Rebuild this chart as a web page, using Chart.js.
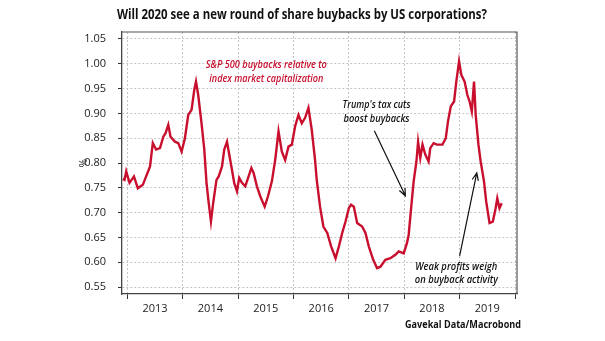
<!DOCTYPE html>
<html>
<head>
<meta charset="utf-8">
<script src="https://cdn.jsdelivr.net/npm/chart.js@4.4.1/dist/chart.umd.min.js"></script>
<style>
  html, body { margin: 0; padding: 0; background: #fff; }
  #wrap { width: 605px; height: 341px; }
</style>
</head>
<body>
<div id="wrap"><canvas id="chart" width="605" height="341"></canvas></div>
<script>
// dates en années décimales (%)
const dates = [
  2012.92, 2012.95, 2012.98, 2013.04, 2013.12, 2013.19, 2013.28, 2013.34, 2013.41, 2013.46,
  2013.52, 2013.59, 2013.65, 2013.69, 2013.74, 2013.78, 2013.86, 2013.92, 2013.98, 2014.04,
  2014.10, 2014.16, 2014.21, 2014.24, 2014.28, 2014.34, 2014.39, 2014.43, 2014.47, 2014.51,
  2014.55, 2014.61, 2014.65, 2014.71, 2014.75, 2014.80, 2014.84, 2014.89, 2014.93, 2014.98,
  2015.02, 2015.07, 2015.13, 2015.19, 2015.24, 2015.28, 2015.34, 2015.40, 2015.48, 2015.54,
  2015.61, 2015.67, 2015.73, 2015.79, 2015.85, 2015.91, 2015.97, 2016.03, 2016.09, 2016.15,
  2016.21, 2016.27, 2016.33, 2016.39, 2016.42, 2016.48, 2016.54, 2016.61, 2016.68, 2016.76,
  2016.82, 2016.88, 2016.94, 2017.00, 2017.04, 2017.09, 2017.15, 2017.24, 2017.30, 2017.36,
  2017.44, 2017.51, 2017.57, 2017.66, 2017.75, 2017.84, 2017.90, 2017.99, 2018.05, 2018.08,
  2018.13, 2018.17, 2018.22, 2018.25, 2018.29, 2018.33, 2018.38, 2018.44, 2018.47, 2018.53,
  2018.59, 2018.69, 2018.75, 2018.79, 2018.84, 2018.90, 2018.94, 2018.99, 2019.03, 2019.09,
  2019.14, 2019.18, 2019.22, 2019.26, 2019.29, 2019.34, 2019.38, 2019.44, 2019.48, 2019.54,
  2019.60, 2019.65, 2019.68, 2019.72, 2019.76
];
const buybacks = [
  0.768, 0.766, 0.783, 0.760, 0.773, 0.749, 0.756, 0.773, 0.793, 0.840,
  0.827, 0.830, 0.853, 0.860, 0.877, 0.853, 0.843, 0.840, 0.823, 0.850,
  0.897, 0.907, 0.948, 0.964, 0.937, 0.880, 0.827, 0.760, 0.719, 0.682,
  0.719, 0.766, 0.773, 0.793, 0.827, 0.843, 0.817, 0.786, 0.760, 0.743,
  0.770, 0.760, 0.753, 0.773, 0.790, 0.780, 0.753, 0.733, 0.712, 0.733,
  0.763, 0.806, 0.864, 0.823, 0.806, 0.833, 0.837, 0.874, 0.897, 0.880,
  0.891, 0.911, 0.867, 0.806, 0.766, 0.712, 0.672, 0.659, 0.632, 0.608,
  0.632, 0.659, 0.682, 0.709, 0.716, 0.712, 0.679, 0.672, 0.659, 0.632,
  0.605, 0.588, 0.591, 0.605, 0.608, 0.615, 0.622, 0.618, 0.639, 0.655,
  0.716, 0.763, 0.803, 0.843, 0.810, 0.837, 0.817, 0.803, 0.830, 0.840,
  0.837, 0.837, 0.850, 0.884, 0.914, 0.924, 0.964, 1.005, 0.978, 0.964,
  0.937, 0.924, 0.904, 0.964, 0.897, 0.837, 0.803, 0.763, 0.722, 0.679,
  0.682, 0.709, 0.729, 0.709, 0.719
];
const years = [2013, 2014, 2015, 2016, 2017, 2018, 2019];
const yTicks = [0.55, 0.60, 0.65, 0.70, 0.75, 0.80, 0.85, 0.90, 0.95, 1.00, 1.05];

const RED = '#c8102e';
const INK = '#222';

function txt(ctx, s, x, y, font, color, align, maxW) {
  ctx.font = font;
  ctx.fillStyle = color;
  ctx.textAlign = align;
  ctx.textBaseline = 'middle';
  if (maxW) ctx.fillText(s, x, y, maxW);
  else ctx.fillText(s, x, y);
}

function arrow(ctx, x1, y1, x2, y2) {
  const a = Math.atan2(y2 - y1, x2 - x1);
  const h = 8;
  ctx.beginPath();
  ctx.moveTo(x1, y1);
  ctx.lineTo(x2, y2);
  ctx.moveTo(x2 - h * Math.cos(a - 0.4), y2 - h * Math.sin(a - 0.4));
  ctx.lineTo(x2, y2);
  ctx.lineTo(x2 - h * Math.cos(a + 0.4), y2 - h * Math.sin(a + 0.4));
  ctx.stroke();
}

// cadre, titres et annotations
const decor = {
  id: 'decor',
  afterDraw(chart) {
    const ctx = chart.ctx;
    const a = chart.chartArea;
    const sx = chart.scales.x, sy = chart.scales.y;
    const X = v => sx.getPixelForValue(v), Y = v => sy.getPixelForValue(v);
    ctx.save();
    ctx.strokeStyle = '#555';
    ctx.lineWidth = 1.2;
    ctx.beginPath();
    ctx.moveTo(a.left, a.top);
    ctx.lineTo(a.right, a.top);
    ctx.lineTo(a.right, a.bottom);
    ctx.stroke();

    txt(ctx, 'Will 2020 see a new round of share buybacks by US corporations?', 302, 15,
      'bold 15px "Open Sans"', '#111', 'center', 370);

    ctx.save();
    ctx.translate(84, Y(0.80));
    ctx.rotate(-Math.PI / 2);
    txt(ctx, '%', 0, 0, '10px "Open Sans"', INK, 'center');
    ctx.restore();

    const fi = 'italic 600 11px "Open Sans"';
    txt(ctx, 'S&P 500 buybacks relative to', X(2015.51), Y(0.998), fi, RED, 'center', 121);
    txt(ctx, 'index market capitalization', X(2015.51), Y(0.970), fi, RED, 'center', 114);

    txt(ctx, "Trump's tax cuts", X(2017.50), Y(0.917), fi, '#111', 'center', 68);
    txt(ctx, 'boost buybacks', X(2017.50), Y(0.889), fi, '#111', 'center', 66);

    txt(ctx, 'Weak profits weigh', X(2018.94), Y(0.591), fi, '#111', 'center', 82);
    txt(ctx, 'on buyback activity', X(2018.94), Y(0.565), fi, '#111', 'center', 83);

    ctx.strokeStyle = '#111';
    ctx.lineWidth = 1.2;
    arrow(ctx, X(2017.46), Y(0.865), X(2018.02), Y(0.734));
    arrow(ctx, X(2019.00), Y(0.613), X(2019.31), Y(0.780));

    txt(ctx, 'Gavekal Data/Macrobond', 521, 325, 'bold 11px "Open Sans"', '#111', 'right', 116);
    ctx.restore();
  }
};

new Chart(document.getElementById('chart'), {
  type: 'line',
  data: {
    datasets: [{
      label: 'S&P 500 buybacks / market cap',
      data: dates.map((d, i) => ({ x: d, y: buybacks[i] })),
      borderColor: RED,
      borderWidth: 2.4,
      pointRadius: 0,
      tension: 0,
      fill: false
    }]
  },
  options: {
    responsive: false,
    animation: false,
    devicePixelRatio: 1,
    layout: { padding: { left: 72, right: 88, top: 32, bottom: 0 } },
    plugins: { legend: { display: false }, tooltip: { enabled: false }, title: { display: false } },
    scales: {
      x: {
        type: 'linear',
        min: 2012.904,
        max: 2020.036,
        afterBuildTicks: s => { s.ticks = years.concat([2020]).map(v => ({ value: v })); },
        afterFit: s => { s.height = 47; },
        grid: { color: '#c4c4c4', lineWidth: 1, tickLength: 5, tickColor: '#333', tickWidth: 1, tickBorderDash: [] },
        border: { display: true, color: '#444', width: 1.3, dash: [2, 2] },
        ticks: {
          labelOffset: 27.7,
          padding: 3,
          maxRotation: 0,
          autoSkip: false,
          color: INK,
          font: { family: '"Open Sans"', size: 11 },
          callback: v => years.includes(v) ? String(v) : ''
        }
      },
      y: {
        min: 0.536,
        max: 1.064,
        afterBuildTicks: s => { s.ticks = yTicks.map(v => ({ value: v })); },
        afterFit: s => { s.width = 50; },
        grid: { color: '#c4c4c4', lineWidth: 1, tickLength: 4, tickColor: '#333', tickWidth: 1, tickBorderDash: [] },
        border: { display: true, color: '#444', width: 1.3, dash: [2, 2] },
        ticks: {
          padding: 12,
          color: INK,
          font: { family: '"Open Sans"', size: 11 },
          callback: v => v.toFixed(2)
        }
      }
    }
  },
  plugins: [decor]
});
</script>
</body>
</html>
